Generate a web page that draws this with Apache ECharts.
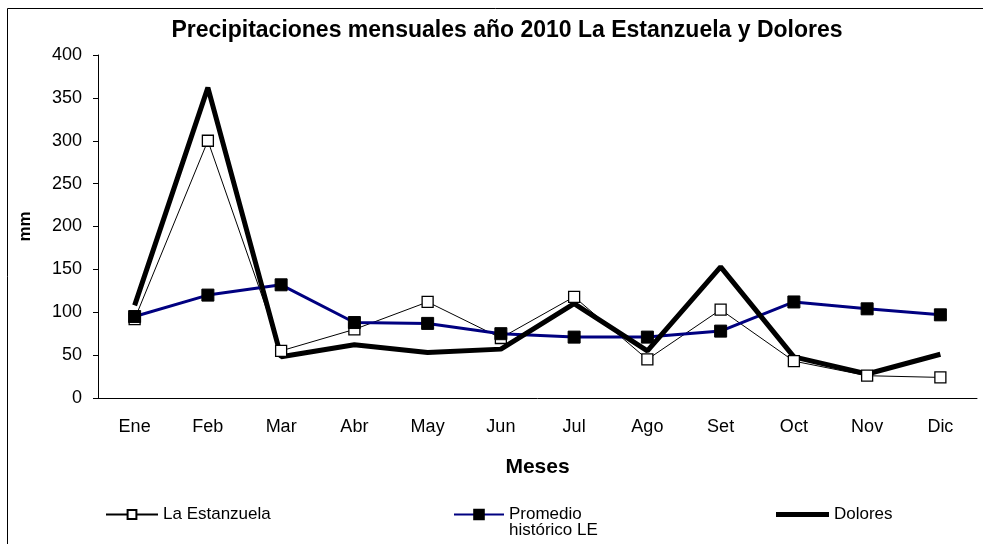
<!DOCTYPE html>
<html>
<head>
<meta charset="utf-8">
<script src="https://cdn.jsdelivr.net/npm/echarts@6/dist/echarts.min.js"></script>
<style>
html,body{margin:0;padding:0;background:#fff;}
#chart{width:983px;height:544px;}
</style>
</head>
<body>
<div id="chart"></div>
<script>
const months = ['Ene','Feb','Mar','Abr','May','Jun','Jul','Ago','Set','Oct','Nov','Dic'];
const laEstanzuela = [92, 300, 55, 80, 112, 70, 118, 45, 103, 43, 26, 24];
const promedioLE = [95, 120, 132, 88, 87, 75, 71, 71, 78, 112, 104, 97];
const dolores = [108, 362, 48, 62, 53, 57, 110, 55, 153, 48, 28, 51];
const yTicks = [0, 50, 100, 150, 200, 250, 300, 350, 400];

const FONT = '"Liberation Sans", Arial, sans-serif';
const chart = echarts.init(document.getElementById('chart'), null, {renderer:'canvas'});
const legendText = {fontFamily: FONT, fontSize: 17, color: '#000'};
chart.setOption({
  backgroundColor: '#fff',
  animation: false,
  title: {
    text: 'Precipitaciones mensuales año 2010 La Estanzuela y Dolores',
    left: 507, top: 19, textAlign: 'center', padding: 0,
    textStyle: {fontFamily: FONT, fontSize: 23, fontWeight: 'bold', color: '#000'}
  },
  graphic: [{
    type: 'rect', silent: true,
    shape: {x: 7.5, y: 8.5, width: 1000, height: 1000},
    style: {fill: null, stroke: '#000', lineWidth: 1}
  }],
  legend: [
    {data: ['La Estanzuela'], left: 105, top: 506, padding: 0, itemWidth: 52, itemHeight: 11, itemGap: 5, textStyle: legendText},
    {data: ['Promedio histórico LE'], left: 453, top: 490, padding: 0, itemWidth: 50, itemHeight: 12,
     formatter: function () { return ' \nPromedio\nhistórico LE'; },
     textStyle: Object.assign({}, legendText, {lineHeight: 16})},
    {data: [{name: 'Dolores', icon: 'rect'}], left: 776, top: 506, padding: 0, itemWidth: 53, itemHeight: 5,
     itemStyle: {color: '#000', borderWidth: 0}, textStyle: legendText}
  ],
  grid: {left: 98, right: 6, top: 55, bottom: 146, containLabel: false},
  xAxis: {
    type: 'category', data: months, boundaryGap: true,
    name: 'Meses', nameLocation: 'middle', nameGap: 59,
    nameTextStyle: {fontFamily: FONT, fontSize: 21, fontWeight: 'bold', color: '#000'},
    axisLine: {lineStyle: {color: '#000', width: 1}},
    axisTick: {inside: true, length: 5, alignWithLabel: false, lineStyle: {color: '#000'}},
    axisLabel: {fontFamily: FONT, fontSize: 18, color: '#000', margin: 20}
  },
  yAxis: {
    type: 'value', min: yTicks[0], max: yTicks[yTicks.length-1], interval: yTicks[1]-yTicks[0],
    name: 'mm', nameLocation: 'middle', nameGap: 64, nameRotate: 90,
    nameTextStyle: {fontFamily: FONT, fontSize: 17, fontWeight: 'bold', color: '#000'},
    axisLine: {show: true, lineStyle: {color: '#000', width: 1}},
    axisTick: {show: true, inside: false, length: 5, lineStyle: {color: '#000'}},
    splitLine: {show: false},
    axisLabel: {fontFamily: FONT, fontSize: 18, color: '#000', margin: 16}
  },
  series: [
    {
      name: 'La Estanzuela', type: 'line', data: laEstanzuela,
      symbol: 'rect', symbolSize: 11, showAllSymbol: true,
      lineStyle: {color: '#000', width: 1},
      itemStyle: {color: '#fff', borderColor: '#000', borderWidth: 1.3}
    },
    {
      name: 'Promedio histórico LE', type: 'line', data: promedioLE,
      symbol: 'rect', symbolSize: 12, showAllSymbol: true,
      lineStyle: {color: '#000080', width: 3},
      itemStyle: {color: '#000', borderColor: '#000', borderWidth: 1}
    },
    {
      name: 'Dolores', type: 'line', data: dolores,
      symbol: 'none', showSymbol: false,
      lineStyle: {color: '#000', width: 5},
      itemStyle: {color: '#000'}
    }
  ]
});
</script>
</body>
</html>
